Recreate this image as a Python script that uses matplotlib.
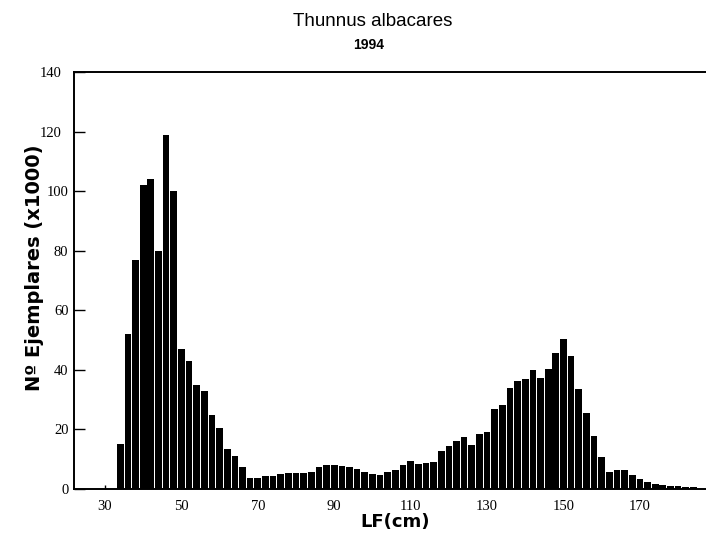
import numpy as np
import matplotlib
matplotlib.use("Agg")
import matplotlib.pyplot as plt
from matplotlib.transforms import ScaledTranslation

# length classes (cm, 2 cm bins) and catch in thousands
lf = np.arange(34, 186, 2)
n_1000 = [15, 52, 77, 102, 104, 80, 119, 100, 47, 43,
          35, 33, 25, 20.5, 13.5, 11, 7.5, 3.8, 3.8, 4.2,
          4.5, 5, 5.5, 5.3, 5.5, 5.8, 7.5, 8, 8, 7.8,
          7.4, 6.6, 5.7, 5.2, 4.7, 5.6, 6.3, 8.2, 9.3, 8.5,
          8.6, 9, 12.6, 14.5, 16.2, 17.4, 14.8, 18.5, 19.3, 26.8,
          28.3, 34, 36.4, 36.8, 40, 37.2, 40.3, 45.8, 50.5, 44.8,
          33.6, 25.4, 17.8, 10.8, 5.8, 6.5, 6.5, 4.6, 3.2, 2.4,
          1.8, 1.3, 1.0, 0.9, 0.8, 0.8]

xticks = [30, 50, 70, 90, 110, 130, 150, 170]
yticks = [0, 20, 40, 60, 80, 100, 120, 140]

fig = plt.figure(figsize=(7.06, 5.37), dpi=100)
ax = fig.add_axes([74/706, 1 - 489/537, 1 - 74/706, (489 - 72)/537])

ax.bar(lf, n_1000, width=1.75, color='black', edgecolor='none')

ax.set_xlim(21.9, 187.3)
ax.set_ylim(0, 140)
ax.set_xticks(xticks)
ax.set_yticks(yticks)

tick_font = {'family': 'Liberation Serif', 'size': 10.5}
ax.set_xticklabels([str(v) for v in xticks], fontdict=tick_font)
ax.set_yticklabels([str(v) for v in yticks], fontdict=tick_font)
ax.tick_params(axis='y', direction='in', length=8, width=1, pad=4)
ax.tick_params(axis='x', direction='in', length=3, width=1, pad=8)

# the two top labels sit a bit further left in the original
for lbl in ax.get_yticklabels()[-2:]:
    lbl.set_transform(lbl.get_transform() +
                      ScaledTranslation(-7/100, 0, fig.dpi_scale_trans))

for s in ['left', 'bottom', 'top']:
    ax.spines[s].set_linewidth(1.4)
ax.spines['right'].set_visible(False)

ax.set_ylabel('Nº Ejemplares (x1000)', family='DejaVu Sans',
              fontsize=14, fontweight='bold', va='center')
ax.yaxis.set_label_coords(-0.062, 0.53)
ax.set_xlabel('LF(cm)', family='DejaVu Sans', fontsize=13,
              fontweight='bold', va='center')
ax.xaxis.set_label_coords(0.508, -0.08)

fig.text(0.528, 0.96, 'Thunnus albacares', ha='center', va='center',
         family='Liberation Sans', fontsize=13.5)
fig.text(0.522, 0.916, '1994', ha='center', va='center',
         family='Liberation Sans', fontsize=10, fontweight='bold')

fig.savefig('out.png', dpi=100)
